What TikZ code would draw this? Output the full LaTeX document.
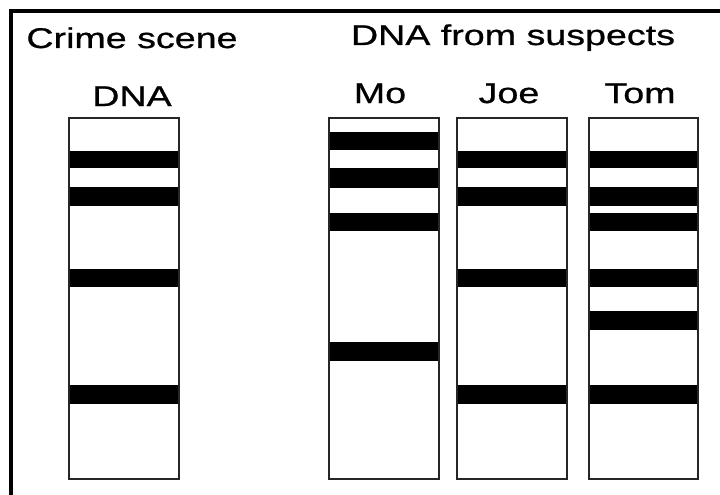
\documentclass[tikz,border=0pt]{standalone}
\usepackage{fontspec}
\setmainfont{Liberation Sans}
\newfontfamily\gelfont[FakeStretch=1.32, FakeBold=0.8]{Liberation Sans}
\usepackage{tikz}
\usetikzlibrary{positioning, calc}

\begin{document}
\begin{tikzpicture}[x=1pt, y=-1pt,
  label/.style={anchor=base, inner sep=0pt, font=\gelfont\fontsize{28.5}{30}\selectfont},
  lane/.style={draw=black!85, line width=1.5pt, fill=none},
  band/.style={fill=black}]
\useasboundingbox (0,0) rectangle (720,495);
% frame
\draw[line width=3.5pt] (11,495) -- (11,11) -- (720,11);

% titles
\node[label] (crime) at (132,48) {Crime scene};
\node[label] (crimedna) at (132,106) {DNA};
\node[label] (suspects) at (513,45) {DNA from suspects};
\node[label] (mo) at (380,103) {Mo};
\node[label] (joe) at (509,103) {Joe};
\node[label] (tom) at (640,103) {Tom};

% crime scene lane
\foreach \a/\b in {151/168, 187/206, 269/287, 385/404}
  \fill[band] (69,\a) rectangle (179,\b);
\draw[lane] (69,118) rectangle (179,479);

% Mo
\foreach \a/\b in {132/150, 168/188, 213/231, 342/361}
  \fill[band] (329,\a) rectangle (439,\b);
\draw[lane] (329,118) rectangle (439,479);

% Joe
\foreach \a/\b in {151/168, 187/206, 269/287, 385/404}
  \fill[band] (457,\a) rectangle (567,\b);
\draw[lane] (457,118) rectangle (567,479);

% Tom
\foreach \a/\b in {151/168, 187/206, 213/231, 269/287, 311/330, 385/404}
  \fill[band] (589,\a) rectangle (698,\b);
\draw[lane] (589,118) rectangle (698,479);
\end{tikzpicture}
\end{document}
